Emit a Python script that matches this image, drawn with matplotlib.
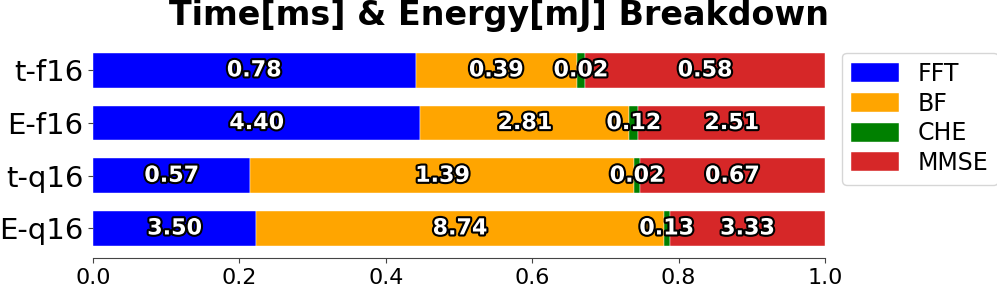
import numpy as np
import matplotlib
matplotlib.use('Agg')
import matplotlib.pyplot as plt
import matplotlib.patheffects as pe


rows = ['t-f16', 'E-f16', 't-q16', 'E-q16']
parts = ['FFT', 'BF', 'CHE', 'MMSE']
colors = ['#0000ff', '#ffa500', '#008000', '#d62728']

fft = [0.78, 4.40, 0.57, 3.50]
bf = [0.39, 2.81, 1.39, 8.74]
che = [0.02, 0.12, 0.02, 0.13]
mmse = [0.58, 2.51, 0.67, 3.33]


def plot_breakdown():
    values = np.array([fft, bf, che, mmse])
    shares = values / values.sum(axis=0)

    fig = plt.figure(figsize=(9.97, 2.86), dpi=100)
    ax = fig.add_axes([0.0933, 0.098, 0.7342, 0.759])

    y = np.arange(len(rows))[::-1]
    left = np.zeros(len(rows))
    outline = [pe.withStroke(linewidth=3, foreground='black')]
    for i, name in enumerate(parts):
        ax.barh(y, shares[i], left=left, height=0.66, color=colors[i],
                label=name, edgecolor='white', linewidth=0.3)
        for yy, l, s, v in zip(y, left, shares[i], values[i]):
            ax.text(l + s / 2, yy, f'{v:.2f}', ha='center', va='center',
                    color='white', fontsize=16, fontweight='bold',
                    path_effects=outline)
        left += shares[i]

    ax.set_xlim(0, 1)
    ax.set_ylim(-0.56, 3.56)
    ax.set_yticks(y)
    ax.set_yticklabels(rows, fontsize=21)
    ax.tick_params(axis='x', labelsize=16)
    for side in ['top', 'right', 'left']:
        ax.spines[side].set_visible(False)
    ax.spines['bottom'].set_color('#444444')
    ax.tick_params(colors='#444444', labelcolor='black')

    fig.text(0.5, 1 - 25 / 286, 'Time[ms] & Energy[mJ] Breakdown',
             fontsize=24, fontweight='bold', ha='center', va='baseline')
    ax.legend(loc='upper left', bbox_to_anchor=(1.0232, 0.946),
              borderaxespad=0, fontsize=17, handleheight=0.85,
              labelspacing=0.24, frameon=True)
    return fig


if __name__ == '__main__':
    fig = plot_breakdown()
    fig.savefig('out.png', dpi=100)
